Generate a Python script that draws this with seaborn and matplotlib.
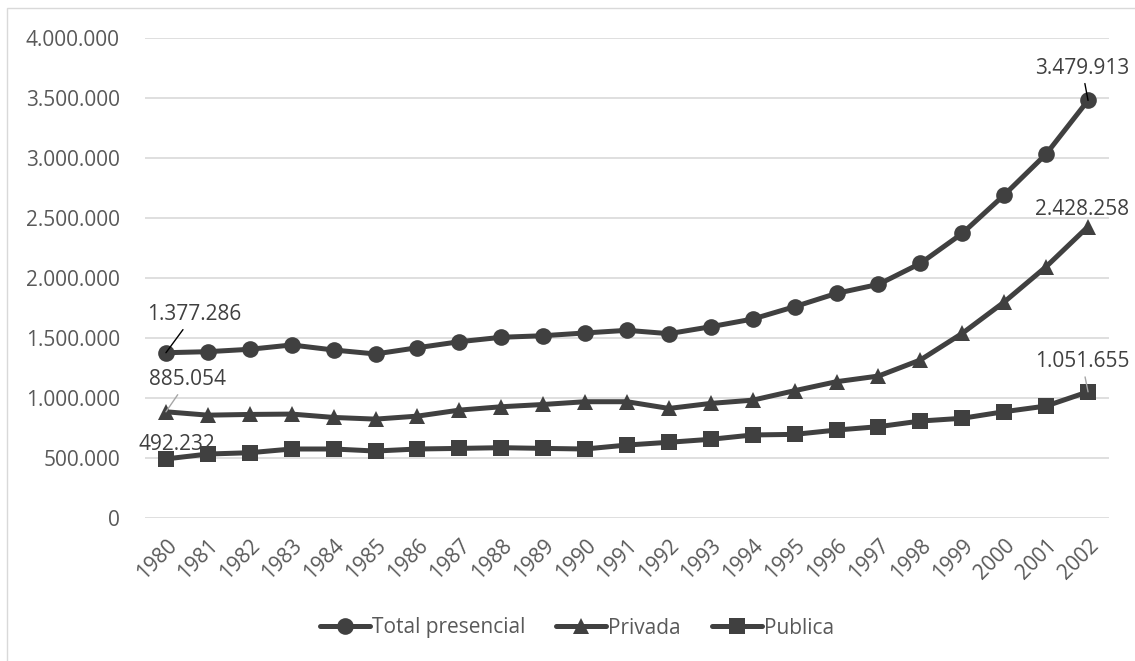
import numpy as np
import pandas as pd
import matplotlib
matplotlib.use("Agg")
import matplotlib.pyplot as plt
import seaborn as sns

sns.set_style("white")
plt.rcParams['font.family'] = ['Open Sans', 'DejaVu Sans']

# ---- data ----
years = [str(y) for y in range(1980, 2003)]
total = [1377286, 1386000, 1406000, 1442000, 1400000, 1367000, 1419000, 1469000,
         1506000, 1519000, 1542000, 1564000, 1536000, 1594000, 1658000, 1761000,
         1872000, 1947000, 2122000, 2372000, 2692000, 3033000, 3479913]
privada = [885054, 857000, 863000, 866000, 838000, 824000, 849000, 899000,
           927000, 946000, 969000, 969000, 913000, 955000, 982000, 1061000,
           1136000, 1183000, 1317000, 1539000, 1800000, 2094000, 2428258]
publica = [492232, 533000, 544000, 575000, 575000, 558000, 575000, 580000,
           586000, 580000, 575000, 608000, 631000, 656000, 692000, 697000,
           733000, 761000, 808000, 831000, 886000, 933000, 1051655]
series = ["Total presencial", "Privada", "Publica"]

df = pd.DataFrame({"idx": np.arange(len(years)), "Total presencial": total,
                   "Privada": privada, "Publica": publica})

dark = "#404040"
txt = "#595959"
grid = "#d9d9d9"

fig = plt.figure(figsize=(11.35, 6.61), dpi=100)
ax = fig.add_axes([145/1135, 1-518/661, (1109-145)/1135, 480/661])

# outer chart border
fig.patches.append(plt.Rectangle((7/1135, -0.1), 1.2, 1-8/661+0.1, transform=fig.transFigure,
                                 fill=False, edgecolor=grid, lw=1))

markers = ["o", "^", "s"]
for name, m in zip(series, markers):
    sns.lineplot(data=df, x="idx", y=name, ax=ax, color=dark, lw=3.6, marker=m,
                 markersize=12, markeredgecolor=dark, markeredgewidth=0, label=name)

ax.set_xlim(-0.5, len(years) - 0.5)
ax.set_ylim(0, 4000000)
ax.set_yticks(np.arange(0, 4000001, 500000))
ax.yaxis.set_major_formatter(matplotlib.ticker.FuncFormatter(
    lambda v, p: "{:,.0f}".format(v).replace(",", ".")))
ax.set_xticks(df["idx"])
ax.set_xticklabels(years, rotation=45, ha="right", rotation_mode="anchor")
ax.tick_params(axis="y", length=0, pad=18, labelsize=15, labelcolor=txt)
ax.tick_params(axis="x", length=0, pad=12, labelsize=15, labelcolor=txt)
ax.set_xlabel("")
ax.set_ylabel("")
ax.yaxis.grid(True, color=grid, lw=1.2)
ax.set_axisbelow(True)
for s in ax.spines.values():
    s.set_visible(False)

# data labels on first/last points
def fmt(v):
    return "{:,}".format(v).replace(",", ".")

last = len(years) - 1
labels = [
    (0, total[0], (28, 38), "black"),
    (0, privada[0], (22, 32), "#a6a6a6"),
    (0, publica[0], (11, 14), None),
    (last, total[-1], (-6, 32), "black"),
    (last, privada[-1], (-6, 17), None),
    (last, publica[-1], (-6, 30), "#a6a6a6"),
]
for i, v, off, col in labels:
    kw = {}
    if col:
        kw["arrowprops"] = dict(arrowstyle="-", color=col, lw=1, shrinkA=1, shrinkB=0)
    ax.annotate(fmt(v), xy=(i, v), xytext=off, textcoords="offset pixels",
                ha="center", va="center", fontsize=15, color=dark, **kw)

ax.get_legend().remove()
h, l = ax.get_legend_handles_labels()
fig.legend(h, l, loc="center", bbox_to_anchor=(577/1135, 1-628/661), ncol=3,
           frameon=False, fontsize=15, handlelength=2.4, handletextpad=0.1,
           columnspacing=1.5, labelcolor=txt)

fig.savefig("out.png", dpi=100)
